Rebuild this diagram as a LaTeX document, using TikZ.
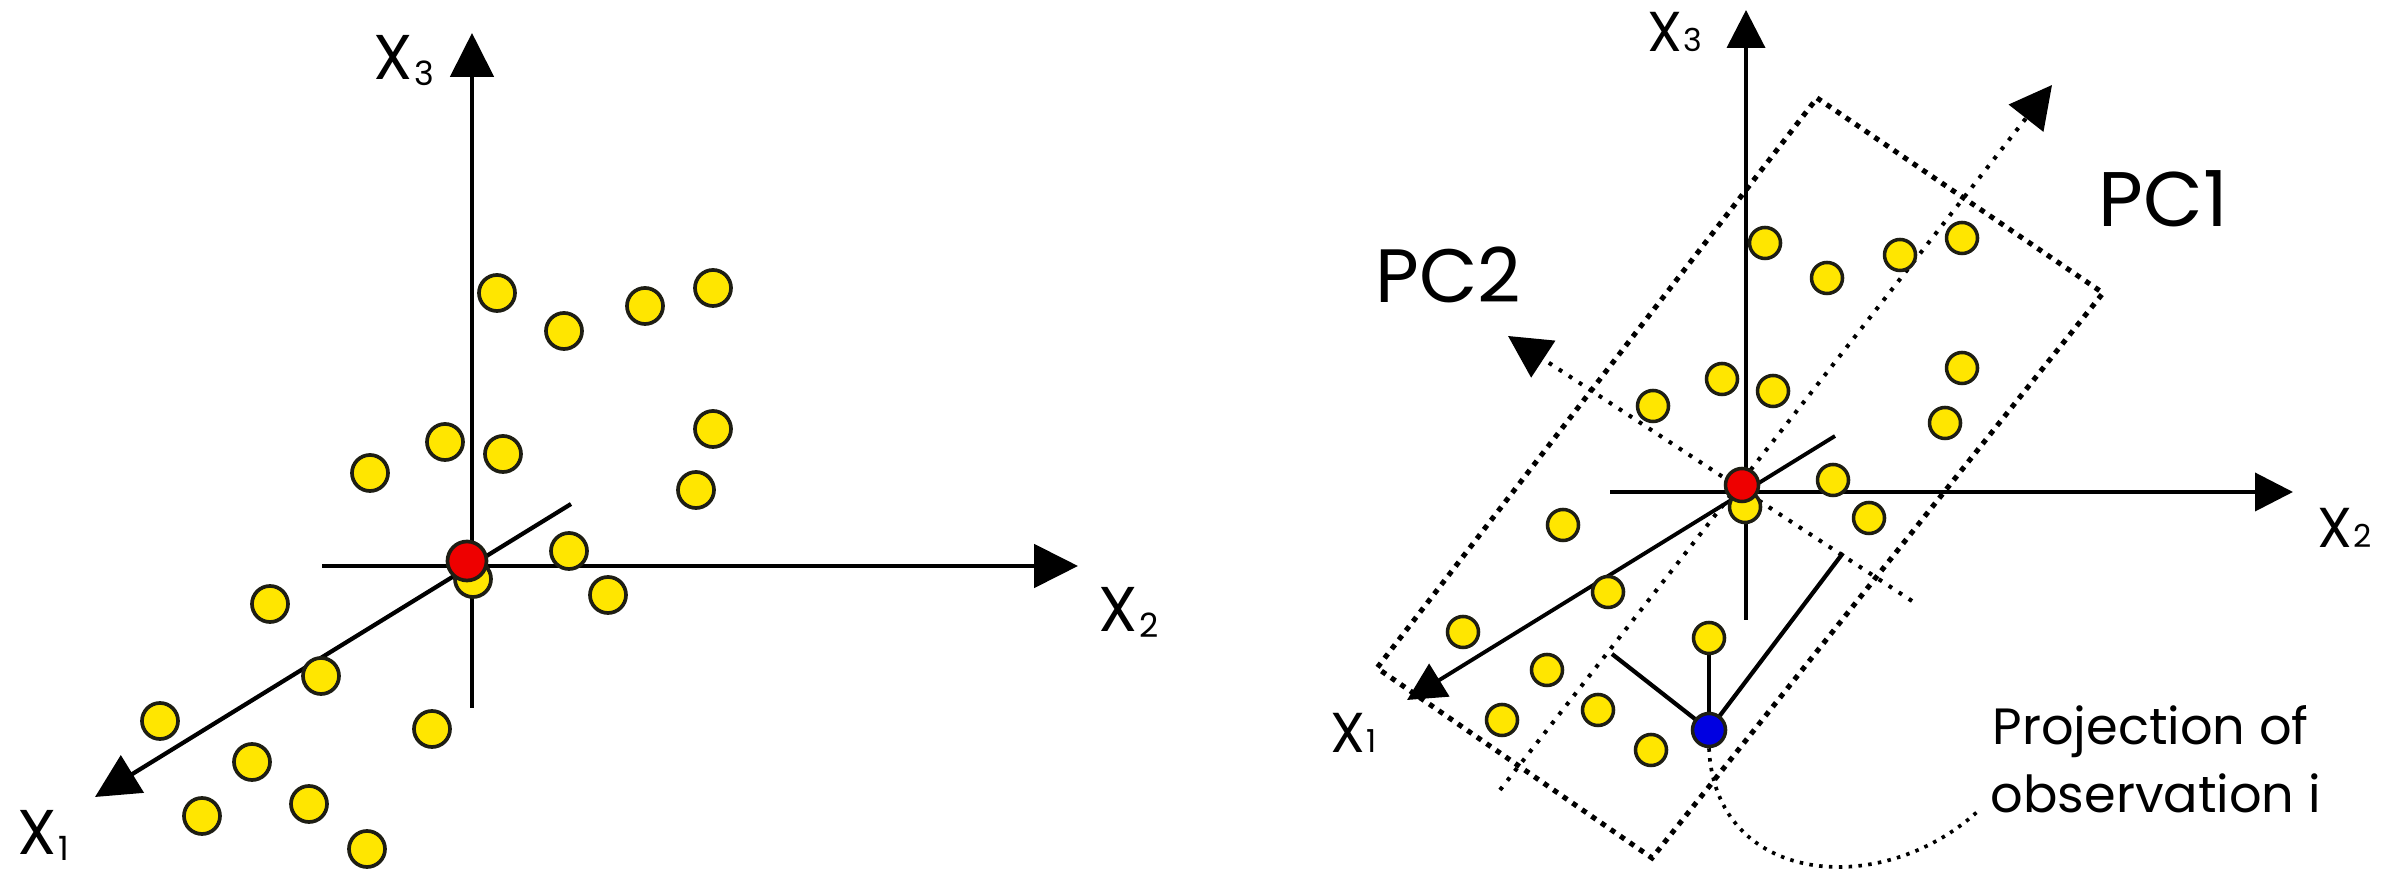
\documentclass[tikz,border=0pt]{standalone}
\usepackage{fontspec}
\setmainfont{Poppins}
\usetikzlibrary{arrows.meta}
\pgfdeclarelayer{bg}
\pgfsetlayers{bg,main}
\definecolor{dotyellow}{RGB}{255,230,0}
\definecolor{dotred}{RGB}{238,0,0}
\definecolor{dotblue}{RGB}{0,0,225}
\definecolor{outl}{RGB}{30,30,20}
\newcommand\xlab[4]{{\fontsize{#1}{#1}\selectfont X\kern0.3pt\raisebox{#4}{\fontsize{#2}{#2}\selectfont #3}}}
\begin{document}
\begin{tikzpicture}[x=0.01cm,y=-0.01cm,
  ydotL/.style={circle,draw=outl,line width=1.05pt,fill=dotyellow,minimum size=0.36cm,inner sep=0},
  ydotR/.style={circle,draw=outl,line width=1pt,fill=dotyellow,minimum size=0.31cm,inner sep=0},
  rdotL/.style={circle,draw=outl,line width=1.05pt,fill=dotred,minimum size=0.39cm,inner sep=0},
  rdotR/.style={circle,draw=outl,line width=1pt,fill=dotred,minimum size=0.33cm,inner sep=0},
  bdot/.style={circle,draw=outl,line width=1pt,fill=dotblue,minimum size=0.33cm,inner sep=0},
  axisL/.style={line width=1.2pt,-{Triangle[length=12.5pt,width=12.3pt]}},
  axisR/.style={line width=1.1pt,-{Triangle[length=10.8pt,width=10.8pt]}},
  axisPC/.style={line width=1.15pt,dash pattern=on 1.1pt off 2.3pt,-{Triangle[length=12pt,width=12.3pt]}},
  plainline/.style={line width=1.2pt},
  rectline/.style={line width=1.45pt,dash pattern=on 1.5pt off 1.8pt},
  curveline/.style={line width=1.05pt,dash pattern=on 1pt off 1.8pt},
  lab/.style={inner sep=0,anchor=base west}
]
\useasboundingbox (0,0) rectangle (2397,874);

% ---------------- left panel ----------------
\coordinate (L3t) at (472,33);  \coordinate (L3b) at (472,708);
\coordinate (L2l) at (322,566); \coordinate (L2r) at (1078,566);
\coordinate (L1u) at (571,504); \coordinate (L1t) at (95,797);
\begin{pgfonlayer}{bg}
\draw[axisL] (L3b) -- (L3t);
\draw[axisL] (L2l) -- (L2r);
\draw[axisL] (L1u) -- (L1t);
\end{pgfonlayer}
\node[lab] (lx3) at (373,80) {\xlab{18pt}{9.5pt}{3}{-1.5pt}};
\node[lab] (lx2) at (1098,632) {\xlab{18pt}{9.5pt}{2}{-1.5pt}};
\node[lab] (lx1) at (17,855) {\xlab{18pt}{9.5pt}{1}{-1.5pt}};

\foreach \p [count=\i] in {(497,293),(564,331),(645,306),(713,288),(445,442),(503,454),(370,473),(713,429),(696,490),(569,551),(608,595),(473,579),(270,604),(321,676),(160,721),(252,762),(432,729),(202,816),(309,804),(367,849)}
  \node[ydotL] (l\i) at \p {};
\node[rdotL] (lred) at (467,561) {};

% ---------------- right panel ----------------
\coordinate (R3t) at (1746,10);  \coordinate (R3b) at (1746,620);
\coordinate (R2l) at (1610,492); \coordinate (R2r) at (2293,492);
\coordinate (R1u) at (1835,436); \coordinate (R1t) at (1407,700);
\coordinate (PC1a) at (1500,790); \coordinate (PC1t) at (2052,85);
\coordinate (PC2a) at (1912,601); \coordinate (PC2t) at (1508,336);
\coordinate (Rtop) at (1817,98); \coordinate (Rright) at (2103,293);
\coordinate (Rbot) at (1652,858); \coordinate (Rleft) at (1377,668);
\coordinate (projL) at (1612,654); \coordinate (projR) at (1843,553);
\coordinate (curveEnd) at (1977,812);

\foreach \p [count=\i] in {(1722,379),(1773,391),(1653,406),(1765,243),(1827,278),(1900,255),(1962,238),(1962,368),(1945,423),(1833,480),(1869,518),(1745,507),(1563,525),(1608,592),(1463,632),(1547,670),(1502,720),(1598,710),(1651,750),(1709,638)}
  \node[ydotR] (r\i) at \p {};
\node[rdotR] (rred) at (1742,485) {};
\node[bdot] (blue) at (1709,730) {};

\begin{pgfonlayer}{bg}
\draw[axisR] (R3b) -- (R3t);
\draw[axisR] (R2l) -- (R2r);
\draw[axisR] (R1u) -- (R1t);
\draw[rectline] (Rtop) -- (Rright) -- (Rbot) -- (Rleft) -- cycle;
\draw[axisPC] (PC1a) -- (PC1t);
\draw[axisPC] (PC2a) -- (PC2t);
\draw[plainline] (blue.center) -- (r20.center);
\draw[plainline] (blue.center) -- (projL);
\draw[plainline] (blue.center) -- (projR);
\draw[curveline] (blue.south) .. controls (1715,885) and (1880,900) .. (curveEnd);
\end{pgfonlayer}

\node[lab] (rx3) at (1647,52) {\xlab{16pt}{9pt}{3}{0pt}};
\node[lab] (rx2) at (2317,548) {\xlab{16pt}{9pt}{2}{0pt}};
\node[lab] (rx1) at (1330,753) {\xlab{16pt}{9pt}{1}{0pt}};
\node[lab] (pc2) at (1375,303) {\fontsize{21.5pt}{21.5pt}\selectfont PC2};
\node[lab] (pc1) at (2098,227) {\fontsize{22pt}{22pt}\selectfont PC1};
\node[lab] (proj1) at (1992,745) {\fontsize{14.5pt}{14.5pt}\selectfont Projection of};
\node[lab] (proj2) at (1990,813) {\fontsize{14.5pt}{14.5pt}\selectfont observation i};
\end{tikzpicture}
\end{document}
